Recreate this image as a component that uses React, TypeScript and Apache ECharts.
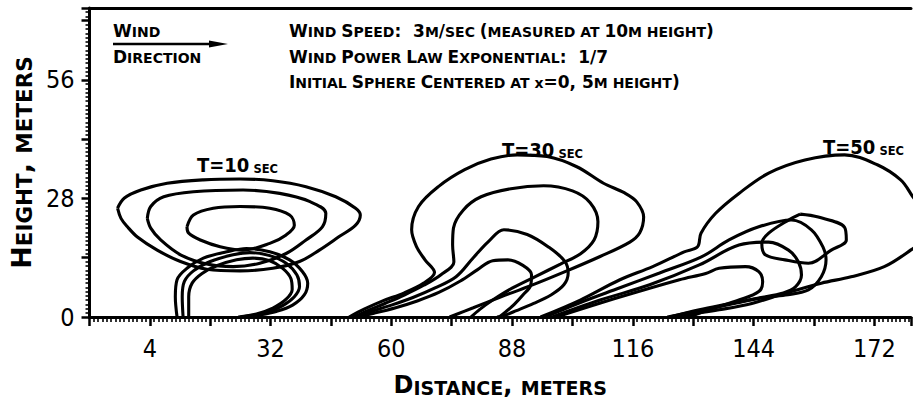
import React, { useEffect, useRef } from 'react';
import * as echarts from 'echarts';

// ---- axes ----
const xMin = -10;
const xMax = 180.5;
const yMin = 0;
const yMax = 73;
const tickStep = 14;
const xLabelValues = [4, 32, 60, 88, 116, 144, 172];
const yLabelValues = [0, 28, 56];

// ---- contours, T = 10 s ----
const t10Outer = [[-3.5,25.7],[-1.9,28.1],[1.9,30.0],[8.0,31.6],[16.4,32.4],[24.9,32.6],[32.5,32.2],[40.2,30.8],[47.1,28.4],[51.7,25.7],[52.8,24.1],[51.7,21.7],[47.9,19.0],[43.3,15.8],[38.7,13.1],[32.5,11.5],[24.9,10.9],[17.2,11.3],[11.1,13.1],[5.7,15.8],[1.1,18.9],[-1.2,21.3],[-2.7,23.3],[-3.5,25.7]];
const t10Middle = [[3.4,23.3],[4.2,26.1],[7.2,28.4],[14.1,29.6],[25.6,30.0],[34.1,29.2],[41.0,27.3],[44.8,24.5],[44.0,21.3],[40.2,18.2],[35.6,15.0],[29.5,12.7],[23.3,11.9],[17.2,12.5],[11.1,14.7],[6.5,18.2],[4.2,21.0],[3.4,23.3]];
const t10Inner = [[12.6,21.3],[14.1,24.1],[18.7,25.7],[24.9,26.1],[31.8,25.7],[36.4,24.1],[37.5,21.7],[35.6,19.4],[31.8,17.4],[25.6,15.8],[20.3,16.6],[15.7,18.2],[13.0,19.8],[12.6,21.3]];
const t10ArchA = [[10.3,0],[9.9,4.8],[10.3,8.8],[12.6,11.5],[16.4,13.9],[21.8,15.4],[26.4,16.2],[31.8,15.4],[36.4,13.5],[39.4,10.7],[40.6,8.0],[39.8,5.2],[37.1,2.8],[33.3,1.3],[29.5,0.5],[25.6,0]];
const t10ArchB = [[11.7,0],[11.5,4.8],[12.0,8.4],[14.1,10.9],[18.0,13.1],[23.3,14.7],[27.2,15.2],[31.8,14.5],[35.6,12.7],[38.1,9.9],[38.7,7.2],[37.5,4.8],[34.8,2.7],[31.0,1.0],[27.9,0.4],[25.0,0]];
const t10ArchC = [[13.0,0],[13.0,4.8],[13.8,8.0],[16.1,10.3],[19.5,12.1],[24.1,13.5],[27.9,13.9],[31.8,13.3],[34.8,11.5],[36.7,9.1],[37.0,6.5],[35.6,4.2],[32.5,2.1],[28.7,0.7],[24.5,0]];

// ---- contours, T = 30 s ----
const t30Outer = [[50.2,0],[53.8,1.9],[58.0,3.8],[63.0,5.7],[67.5,8.0],[70.0,10.5],[67.8,13.5],[65.8,16.7],[64.7,20.6],[66.3,26.1],[70.9,30.8],[77.0,34.8],[83.1,37.3],[89.2,38.3],[96.1,37.9],[103.0,35.5],[109.2,31.6],[114.1,29.3],[116.9,27.2],[118.5,23.6],[117.6,19.9],[115.3,17.7],[108.4,14.3],[100.0,10.6],[92.3,7.4],[85.0,4.6],[79.0,2.2],[75.0,0.6],[73.5,0]];
const t30Second = [[51.2,0],[54.5,1.5],[58.5,3.2],[63.0,5.2],[67.5,7.5],[71.5,10.0],[74.5,13.0],[74.2,17.0],[74.4,21.0],[76.7,25.3],[80.8,28.4],[87.7,30.3],[95.3,31.0],[102.0,29.8],[106.1,27.0],[107.9,22.5],[107.0,18.2],[103.8,14.9],[99.2,12.5],[93.5,9.6],[88.0,6.8],[83.5,4.0],[80.5,1.8],[78.5,0]];
const t30Third = [[51.6,0],[55.0,1.2],[60.0,2.8],[65.0,4.6],[70.0,6.8],[75.0,9.5],[79.0,14.0],[82.5,17.8],[86.1,20.6],[91.5,19.5],[96.5,16.5],[100.2,13.2],[101.0,10.4],[100.0,7.6],[97.0,5.2],[93.0,3.2],[89.0,1.5],[86.0,0.3],[84.5,0]];
const t30Fourth = [[52.0,0],[56.0,0.9],[61.0,2.2],[66.0,3.8],[71.0,5.8],[76.0,8.5],[80.0,11.2],[83.5,13.3],[87.0,13.5],[90.5,12.2],[92.5,10.0],[92.3,7.5],[90.5,5.2],[88.5,3.0],[86.5,1.2],[85.0,0]];

// ---- contours, T = 50 s ----
const t50Outer = [[94.6,0],[103.8,4.0],[113.0,8.8],[120.6,11.9],[127.9,15.4],[131.0,16.6],[131.8,19.8],[135.2,24.5],[140.6,29.2],[147.5,34.0],[155.9,37.1],[165.1,38.3],[172.8,35.9],[178.1,32.4],[180.4,29.2],[183.1,24.1],[183.1,18.2],[180.4,15.8],[174.3,11.9],[166.6,9.5],[159.7,8.0],[151.3,5.6],[143.6,3.2],[136.0,1.7],[128.3,0.5],[124.5,0]];
const t50Second = [[95.6,0],[104.0,3.5],[113.0,6.9],[122.2,10.4],[131.9,14.2],[138.3,18.2],[145.2,21.3],[152.8,22.9],[157.4,20.6],[160.1,16.5],[160.8,13.5],[159.7,9.5],[156.7,6.4],[151.4,5.2],[145.2,4.4],[140.0,3.3],[134.0,2.0],[128.0,0.8],[124.0,0]];
const t50Third = [[97.3,0],[108.4,4.0],[119.9,7.6],[131.4,12.3],[140.6,17.0],[147.5,17.7],[152.1,15.8],[154.4,13.0],[155.1,9.9],[153.7,7.1],[150.9,5.7],[145.2,4.5],[138.3,3.1],[131.4,1.7],[124.5,0]];
const t50Fourth = [[98.3,0],[113.0,4.7],[126.8,8.8],[132.9,10.3],[136.0,11.5],[142.1,11.9],[145.2,10.7],[146.1,8.3],[145.2,6.0],[140.6,4.0],[134.8,2.1],[129.1,0]];
const t50Core = [[154.8,24.3],[159.0,23.6],[165.1,21.2],[165.5,18.2],[162.0,15.8],[156.7,12.7],[151.3,13.5],[146.7,14.7],[145.9,17.4],[147.5,19.8],[152.1,22.9],[154.8,24.3]];

const contours = [
  t10Outer, t10Middle, t10Inner, t10ArchA, t10ArchB, t10ArchC,
  t30Outer, t30Second, t30Third, t30Fourth,
  t50Outer, t50Second, t50Third, t50Fourth, t50Core,
];

const timeLabels = ['10', '30', '50'];

const FONT = '"DejaVu Sans", sans-serif';
const FONT_C = '"DejaVu Sans Condensed", "DejaVu Sans", sans-serif';

// small caps: uppercase letters/digits -> big style, lowercase -> small style (uppercased)
function smallCaps(s: string, big: string, small: string): string {
  let out = '';
  let cur = '';
  let curStyle = '';
  for (let i = 0; i < s.length; i++) {
    const ch = s[i];
    let style: string;
    let c = ch;
    if (ch === ' ') {
      style = curStyle || big;
    } else if (ch >= 'a' && ch <= 'z') {
      style = small;
      if (!(ch === 'x' && s[i + 1] === '=')) c = ch.toUpperCase();
    } else {
      style = big;
    }
    if (curStyle && style !== curStyle) {
      out += '{' + curStyle + '|' + cur + '}';
      cur = '';
    }
    curStyle = style;
    cur += c;
  }
  if (cur) out += '{' + curStyle + '|' + cur + '}';
  return out;
}

export default function App() {
  const ref = useRef<HTMLDivElement>(null);
  useEffect(() => {
    const el = ref.current;
    if (!el) return;
    const chart = echarts.init(el, null, { renderer: 'svg' });

    const annoRich = {
      B: { fontFamily: FONT, fontWeight: 'bold', fontSize: 17, verticalAlign: 'bottom', lineHeight: 20, color: '#000' },
      S: { fontFamily: FONT, fontWeight: 'bold', fontSize: 14, verticalAlign: 'bottom', lineHeight: 20, color: '#000' },
    };
    const tauRich = {
      B: { fontFamily: FONT_C, fontWeight: 'bold', fontSize: 20, verticalAlign: 'bottom', lineHeight: 24, color: '#000' },
      S: { fontFamily: FONT, fontWeight: 'bold', fontSize: 11.5, verticalAlign: 'bottom', lineHeight: 24, color: '#000' },
    };
    const titleRich = {
      B: { fontFamily: FONT, fontWeight: 'bold', fontSize: 24, verticalAlign: 'bottom', lineHeight: 28, color: '#000' },
      S: { fontFamily: FONT, fontWeight: 'bold', fontSize: 19, verticalAlign: 'bottom', lineHeight: 28, color: '#000' },
    };
    const yTitleRich = {
      B: { fontFamily: FONT, fontWeight: 'bold', fontSize: 27, verticalAlign: 'bottom', lineHeight: 30, color: '#000' },
      S: { fontFamily: FONT, fontWeight: 'bold', fontSize: 21.5, verticalAlign: 'bottom', lineHeight: 30, color: '#000' },
    };

    const annoText = (x: number, y: number, s: string) => ({
      type: 'text', x, y, silent: true,
      style: { text: smallCaps(s, 'B', 'S'), rich: annoRich, fill: '#000' },
    });
    const tauText = (x: number, y: number, t: string) => ({
      type: 'text', x, y, silent: true,
      style: { text: '{B|T=' + t + '}{S| SEC}', rich: tauRich, fill: '#000' },
    });

    chart.setOption({
      animation: false,
      backgroundColor: '#fff',
      grid: { left: 85, right: 0, top: 8, bottom: 96, containLabel: false },
      xAxis: [
        {
          type: 'value', min: xMin, max: xMax, interval: tickStep, position: 'bottom',
          name: smallCaps('Distance, meters', 'B', 'S'), nameLocation: 'middle', nameGap: 52,
          nameTextStyle: { rich: titleRich },
          axisLine: { show: true, onZero: false, lineStyle: { color: '#000', width: 3 } },
          axisTick: { show: true, length: 9, lineStyle: { color: '#000', width: 2.5 } },
          minorTick: { show: true, splitNumber: 14, length: 5, lineStyle: { color: '#000', width: 1.6 } },
          splitLine: { show: false }, minorSplitLine: { show: false },
          axisLabel: {
            margin: 19, color: '#000', fontFamily: FONT_C, fontSize: 25,
            formatter: (v: number) => (xLabelValues.indexOf(v) >= 0 ? String(v) : ''),
          },
        },
        {
          type: 'value', min: xMin, max: xMax, position: 'top',
          axisLine: { show: true, onZero: false, lineStyle: { color: '#000', width: 3 } },
          axisTick: { show: false }, axisLabel: { show: false }, splitLine: { show: false },
        },
      ],
      yAxis: {
        type: 'value', min: yMin, max: yMax, interval: tickStep,
        name: smallCaps('Height, meters', 'B', 'S'), nameLocation: 'middle', nameGap: 50,
        nameTextStyle: { rich: yTitleRich },
        axisLine: { show: true, onZero: false, lineStyle: { color: '#000', width: 3 } },
        axisTick: { show: true, length: 8, lineStyle: { color: '#000', width: 2.5 } },
        minorTick: { show: true, splitNumber: 14, length: 4, lineStyle: { color: '#000', width: 1.6 } },
        splitLine: { show: false }, minorSplitLine: { show: false },
        axisLabel: {
          margin: 15, color: '#000', fontFamily: FONT_C, fontSize: 25,
          formatter: (v: number) => (yLabelValues.indexOf(v) >= 0 ? String(v) : ''),
        },
      },
      series: contours.map((d) => ({
        type: 'line', xAxisIndex: 0, yAxisIndex: 0, data: d,
        showSymbol: false, symbol: 'none', smooth: 0.35, silent: true, clip: true,
        lineStyle: { color: '#000', width: 3.1 },
      })),
      graphic: [
        annoText(113, 19, 'Wind'),
        annoText(113, 45, 'Direction'),
        { type: 'line', silent: true, shape: { x1: 113, y1: 44, x2: 214, y2: 44 }, style: { stroke: '#000', lineWidth: 2.5 } },
        { type: 'polygon', silent: true, shape: { points: [[209, 40.5], [228, 44], [209, 47.5]] }, style: { fill: '#000' } },
        annoText(289, 19, 'Wind Speed:  3m/sec (measured at 10m height)'),
        annoText(289, 45, 'Wind Power Law Exponential:  1/7'),
        annoText(289, 70, 'Initial Sphere Centered at x=0, 5m height)'),
        tauText(197, 151, timeLabels[0]),
        tauText(502, 136, timeLabels[1]),
        tauText(823, 133, timeLabels[2]),
      ],
    });
    return () => chart.dispose();
  }, []);
  return <div ref={ref} style={{ position: 'absolute', left: 0, top: 0, width: 914, height: 413 }} />;
}
